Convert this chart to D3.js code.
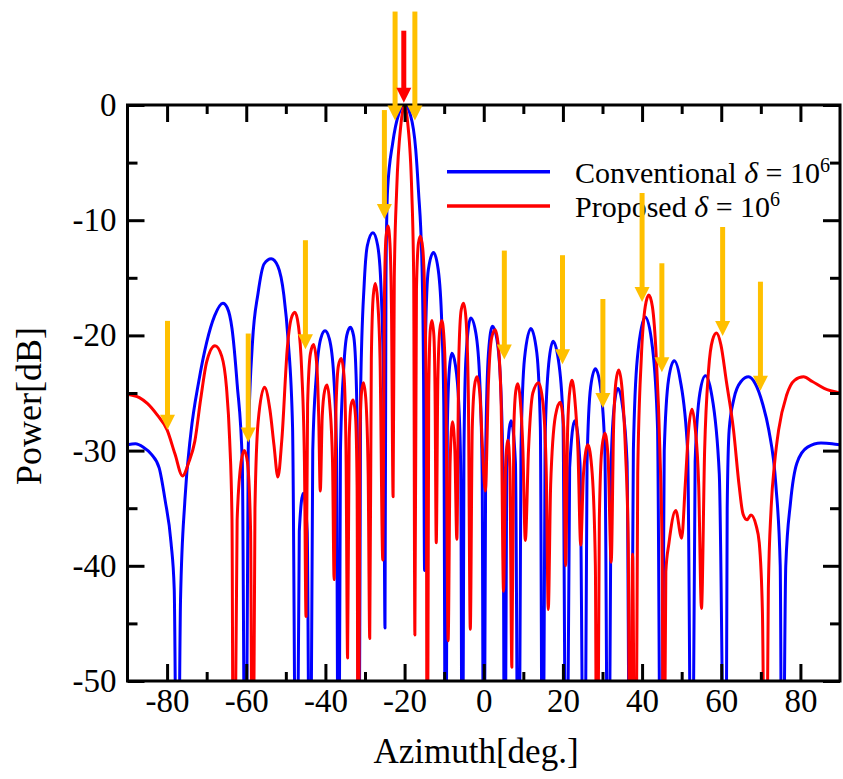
<!DOCTYPE html>
<html>
<head>
<meta charset="utf-8">
<script src="https://cdn.jsdelivr.net/npm/d3@7"></script>
<style>
	body { margin: 0; background: #fff; }
	svg text { font-family: "Liberation Serif", "Times New Roman", serif !important; fill: #000; }
</style>
</head>
<body>
<div class="js-graph"></div>
<script>
// azimuth [deg], power [dB]; deep nulls run past -50 and get clipped
var conventional = [
	[-90, -29.5], [-88, -29.4], [-86, -29.7], [-84, -30.3], [-82, -31.5], [-80.5, -34.3], [-79, -38], [-78.2, -42], [-77.4, -70],
	[-76.6, -42.9], [-75.5, -34.3], [-74, -28.5], [-72, -24], [-70, -20.6], [-68, -18.3], [-65.9, -17.2], [-64.8, -17.6], [-63.6, -19.4], [-62.3, -24.2], [-61, -31], [-60.2, -70],
	[-59.5, -30], [-58.5, -21], [-57, -16.3], [-55.5, -13.8], [-53.7, -13.35], [-52, -14], [-50.5, -16.5], [-49.4, -20.5], [-48.3, -28], [-47.3, -70],
	[-46.6, -37], [-45.6, -33.7], [-44.6, -37], [-43.9, -70],
	[-43.2, -30], [-42.3, -23.5], [-41.2, -20.3], [-40.1, -19.6], [-39, -20.3], [-37.9, -23.5], [-37.2, -30], [-36.7, -70],
	[-36.2, -30], [-35.4, -23], [-34.6, -20], [-33.7, -19.3], [-32.9, -20], [-32.3, -23], [-31.9, -30], [-31.6, -70],
	[-31.1, -24.7], [-30.2, -15.5], [-29.4, -12.2], [-28, -11.1], [-26.8, -12.2], [-26, -15.5], [-25.3, -24.7], [-24.95, -45.4],
	[-24.7, -15], [-24.3, -7.4], [-23, -3.3], [-21.5, -0.8], [-20, 0], [-18.5, -0.9], [-17.2, -3.8], [-16.5, -7.4], [-15.6, -14], [-15.2, -24], [-14.95, -40.4],
	[-14.7, -20], [-14, -14.3], [-12.7, -12.8], [-11.5, -14.3], [-10.6, -19], [-10.1, -26], [-9.6, -70],
	[-9.2, -28], [-8.7, -23], [-8.05, -21.55], [-7.2, -22.5], [-6.3, -26], [-5.8, -32], [-5.4, -70],
	[-5, -30], [-4.5, -22], [-3.3, -18.5], [-2, -19.8], [-1, -24], [-0.4, -32], [0, -70],
	[0.5, -30], [1.2, -21.5], [2.2, -19.2], [3.3, -20.3], [4.3, -24.5], [4.9, -33], [5.3, -70],
	[5.8, -31.5], [6.9, -27.4], [8, -31], [8.8, -70],
	[9.4, -30], [10.3, -22], [11.9, -19.4], [13.4, -21.5], [14.3, -28], [14.9, -70],
	[15.5, -29], [16.4, -22.5], [17.5, -20.5], [18.8, -22], [20, -27], [20.9, -70],
	[21.7, -31.5], [23, -27.4], [24.3, -31], [25.4, -70],
	[26.1, -31], [27, -24.5], [28.2, -22.9], [29.5, -24.5], [30.6, -30], [31.5, -70],
	[32.2, -31], [33, -26], [33.9, -24.6], [35, -26], [36.2, -31], [37, -70],
	[37.8, -30], [38.8, -22], [40.8, -18.4], [42.6, -21], [43.9, -28], [44.8, -70],
	[45.6, -30], [46.7, -23.8], [48.1, -22.2], [49.6, -23.8], [51.5, -30], [52.6, -70],
	[53.4, -31], [54.6, -25], [56, -23.5], [57.5, -25], [59.5, -32], [61.1, -70],
	[61.5, -35], [62, -28.2], [63.2, -25.5], [65, -24], [66.9, -23.6], [68.6, -24.2], [70.5, -26], [72, -28.2], [73.8, -33], [74.9, -40], [75.4, -70],
	[76.3, -40], [77.5, -34.5], [79.1, -31.1], [81.8, -29.7], [85.2, -29.35], [88, -29.4], [90, -29.5]
];

var proposed = [
	[-90, -25.1], [-87, -25.4], [-85, -25.9], [-82.5, -26.9], [-80, -28.2], [-78, -30.3], [-76.1, -32.2], [-74.5, -31], [-73, -29.2], [-71.5, -25.5], [-70, -22.3],
	[-67.9, -20.9], [-66.2, -21.8], [-65, -24.5], [-64.2, -29], [-63.6, -36], [-63.2, -70],
	[-62.3, -36], [-61.3, -31], [-60.5, -30], [-59.7, -31], [-58.9, -37], [-58.4, -70],
	[-57.8, -35], [-57, -27.5], [-55.4, -24.5], [-54, -26.5], [-53, -29.5], [-52, -32.3],
	[-51, -29], [-49.6, -21], [-48.6, -18.5], [-47.7, -18], [-46.8, -19.2], [-46, -23], [-45.3, -31], [-44.9, -44.4],
	[-44.5, -26], [-43.8, -21.6], [-43, -20.8], [-42.2, -22.5], [-41.7, -27], [-41.3, -33.5],
	[-40.8, -27], [-40.2, -24.8], [-39.6, -24.3], [-38.9, -26], [-38.2, -31], [-37.8, -41.2],
	[-37.3, -26], [-36.7, -22.6], [-36, -22], [-35.3, -23.5], [-34.8, -30], [-34.4, -48],
	[-34, -29], [-33.5, -26], [-33, -25.6], [-32.4, -27], [-32, -33], [-31.7, -70],
	[-31.3, -29], [-30.9, -25], [-30.4, -24.1], [-29.8, -25.5], [-29.2, -32], [-28.8, -46.3],
	[-28.4, -22], [-27.9, -16.5], [-27.4, -15.5], [-26.8, -17], [-26.2, -22], [-25.5, -39.5],
	[-25.1, -17], [-24.7, -11.5], [-24.2, -10.5], [-23.7, -12], [-23.3, -18], [-22.9, -34],
	[-22.6, -15], [-22, -7.4], [-20.9, -1.6], [-20, 0], [-19.2, -1.6], [-18.2, -7.4], [-17.7, -15], [-17.4, -46],
	[-17, -16], [-16.5, -12], [-16, -11.4], [-15.4, -12.5], [-14.9, -17], [-14.5, -27], [-14.3, -70],
	[-13.9, -25], [-13.5, -19.5], [-13.1, -18.7], [-12.6, -20], [-12.3, -25], [-12, -38],
	[-11.6, -24], [-11.1, -19.5], [-10.6, -18.7], [-10, -20.5], [-9.5, -27], [-9, -46.5],
	[-8.5, -31], [-7.9, -27.5], [-7.3, -30], [-6.8, -37.7],
	[-6.3, -22], [-5.7, -17.8], [-5.1, -17.2], [-4.5, -18.5], [-3.9, -25], [-3.4, -45.5],
	[-2.9, -28], [-2.3, -24.3], [-1.7, -23.6], [-1, -25], [-0.3, -30], [0.4, -33.5],
	[1.2, -24], [2, -20.2], [2.9, -19.5], [3.7, -21], [4.4, -26], [5, -42.2],
	[5.5, -31.5], [6.1, -29.1], [6.6, -31.5], [7.1, -48.8],
	[7.6, -28], [8.1, -24.8], [8.6, -24.2], [9.2, -25.5], [9.9, -30], [10.5, -37.8],
	[11.3, -30], [12.4, -25], [13.85, -24.1], [15, -26], [15.8, -32], [16.3, -43.8],
	[16.9, -33], [18.1, -27], [19.3, -25.8], [20.2, -28], [20.7, -40],
	[21.2, -28], [21.8, -24.6], [22.3, -23.9], [23, -25.5], [23.8, -30], [24.5, -38.2],
	[25.2, -32], [26.3, -29.5], [27.4, -32], [28.2, -40], [28.6, -70],
	[29.2, -36], [29.8, -30], [30.6, -28.5], [31.4, -30.5], [32.2, -39.7],
	[32.8, -28], [33.4, -24], [34.1, -23], [34.9, -24.5], [35.8, -30], [36.5, -38], [37, -70],
	[37.6, -39], [38.3, -70],
	[38.9, -32], [39.8, -22], [40.8, -17.5], [41.7, -16.5], [42.6, -17.5], [43.6, -22], [44.5, -30], [45.1, -40], [45.4, -70],
	[46, -40.5], [46.8, -38], [48.5, -35.2], [50, -37.6], [50.9, -33], [51.8, -28],
	[52.6, -26.4], [53.4, -28], [54.3, -33], [55, -43.7],
	[55.8, -30], [56.8, -23], [57.8, -20.4], [58.8, -19.8], [59.9, -20.8], [61.3, -24], [63.1, -28.2], [64.5, -33], [65.5, -35.5], [66.5, -36], [67.5, -35.6], [68.8, -36.5], [69.6, -38], [70.4, -44], [71.2, -70],
	[71.9, -42], [72.6, -35], [73.5, -31], [74.5, -28.2], [76.5, -25.2], [78.5, -23.9], [80.8, -23.6], [83, -24], [86, -24.6], [90, -25]
];

// yellow arrows: azimuth and the power level their heads point at
var arrowAngles = [-79.9, -59.5, -45.05, -25.1, -22.4, -17.4, 5.2, 19.9, 30.1, 40, 45, 60.35, 69.9];
var arrowTips = [-28.2, -29.3, -21.2, -9.9, -1.35, -1.35, -22.1, -22.5, -26.3, -17.1, -23.2, -20.05, -24.8];
var redArrow = [-20.2, 0.2];

var xMajor = [-80, -60, -40, -20, 0, 20, 40, 60, 80];
var xMinor = [-70, -50, -30, -10, 10, 30, 50, 70];
var yMajor = [0, -10, -20, -30, -40, -50];
var yMinor = [-5, -15, -25, -35, -45];

var legendNames = ['Conventional', 'Proposed'];
var legendColors = ['#0000ff', '#ff0000'];

(function(d3) {
	var w = 843, h = 779,
		left = 127.5, right = 840, top = 105, bottom = 681,
		serif = '"Liberation Serif", "Times New Roman", serif';

	var svg = d3.select('.js-graph').append('svg')
		.attr('width', w).attr('height', h)
		.style('font-family', serif);

	var x = d3.scaleLinear().domain([-90, 90]).range([left, right]),
		y = d3.scaleLinear().domain([-50, 0]).range([bottom, top]);

	svg.append('defs').append('clipPath').attr('id', 'plot-clip')
		.append('rect')
		.attr('x', left).attr('y', top)
		.attr('width', right - left).attr('height', bottom - top);

	var line = d3.line()
		.x(function(d) { return x(d[0]); })
		.y(function(d) { return y(d[1]); })
		.curve(d3.curveMonotoneX);

	var curves = svg.append('g').attr('clip-path', 'url(#plot-clip)');
	[conventional, proposed].forEach(function(series, i) {
		curves.append('path')
			.datum(series)
			.attr('d', line)
			.attr('fill', 'none')
			.attr('stroke', legendColors[i])
			.attr('stroke-width', 3)
			.attr('stroke-linejoin', 'round');
	});

	// axes, ticks pointing inwards on all four sides
	function fmt(d) { return String(d); }
	function styleAxis(g) {
		g.attr('font-family', null).style('font-family', serif);
		g.select('.domain').remove();
		g.selectAll('line').attr('stroke', '#000').attr('stroke-width', 3);
		g.selectAll('text')
			.attr('font-size', 33)
			.style('font-family', serif);
	}

	svg.append('g').attr('transform', 'translate(0,' + bottom + ')')
		.call(d3.axisBottom(x).tickValues(xMajor).tickFormat(fmt).tickSizeInner(-17).tickPadding(8).tickSizeOuter(0))
		.call(styleAxis);
	svg.append('g').attr('transform', 'translate(0,' + bottom + ')')
		.call(d3.axisBottom(x).tickValues(xMinor).tickFormat('').tickSizeInner(-9).tickSizeOuter(0))
		.call(styleAxis);
	svg.append('g').attr('transform', 'translate(0,' + top + ')')
		.call(d3.axisTop(x).tickValues(xMajor).tickFormat('').tickSizeInner(-17).tickSizeOuter(0))
		.call(styleAxis);
	svg.append('g').attr('transform', 'translate(0,' + top + ')')
		.call(d3.axisTop(x).tickValues(xMinor).tickFormat('').tickSizeInner(-9).tickSizeOuter(0))
		.call(styleAxis);

	svg.append('g').attr('transform', 'translate(' + left + ',0)')
		.call(d3.axisLeft(y).tickValues(yMajor).tickFormat(fmt).tickSizeInner(-17).tickPadding(11).tickSizeOuter(0))
		.call(styleAxis);
	svg.append('g').attr('transform', 'translate(' + left + ',0)')
		.call(d3.axisLeft(y).tickValues(yMinor).tickFormat('').tickSizeInner(-10).tickSizeOuter(0))
		.call(styleAxis);
	svg.append('g').attr('transform', 'translate(' + right + ',0)')
		.call(d3.axisRight(y).tickValues(yMajor).tickFormat('').tickSizeInner(-17).tickSizeOuter(0))
		.call(styleAxis);
	svg.append('g').attr('transform', 'translate(' + right + ',0)')
		.call(d3.axisRight(y).tickValues(yMinor).tickFormat('').tickSizeInner(-10).tickSizeOuter(0))
		.call(styleAxis);

	svg.append('rect')
		.attr('x', left).attr('y', top)
		.attr('width', right - left).attr('height', bottom - top)
		.attr('fill', 'none')
		.attr('stroke', '#000')
		.attr('stroke-width', 3);

	// axis titles
	svg.append('text')
		.attr('x', 476).attr('y', 763)
		.attr('text-anchor', 'middle')
		.attr('font-size', 35)
		.text('Azimuth[deg.]');
	svg.append('text')
		.attr('transform', 'translate(40.5,406) rotate(-90)')
		.attr('text-anchor', 'middle')
		.attr('font-size', 36)
		.text('Power[dB]');

	// legend
	var legend = svg.append('g');
	legendNames.forEach(function(name, i) {
		var ly = 171.7 + i * 34.3;
		legend.append('line')
			.attr('x1', 447).attr('x2', 550)
			.attr('y1', ly).attr('y2', ly)
			.attr('stroke', legendColors[i])
			.attr('stroke-width', 3.5);
		var t = legend.append('text')
			.attr('x', 575).attr('y', ly + 11)
			.attr('font-size', 30);
		t.append('tspan').text(name + ' ');
		t.append('tspan').attr('font-style', 'italic').text('\u03b4');
		t.append('tspan').text(' = 10');
		t.append('tspan').attr('font-size', 20).attr('dy', -11).text('6');
	});

	// arrows
	function arrow(g, angle, tipDb, len, color) {
		var ax = x(angle), ay = y(tipDb), head = 15;
		g.append('line')
			.attr('x1', ax).attr('x2', ax)
			.attr('y1', ay - len).attr('y2', ay - head + 1)
			.attr('stroke', color)
			.attr('stroke-width', 5);
		g.append('path')
			.attr('d', 'M' + (ax - 7.5) + ',' + (ay - head) + 'L' + (ax + 7.5) + ',' + (ay - head) + 'L' + ax + ',' + ay + 'Z')
			.attr('fill', color);
	}
	var arrows = svg.append('g');
	arrowAngles.forEach(function(a, i) {
		arrow(arrows, a, arrowTips[i], 109, '#ffc000');
	});
	arrow(arrows, redArrow[0], redArrow[1], 72, '#ff0000');
})(d3);
</script>
</body>
</html>
